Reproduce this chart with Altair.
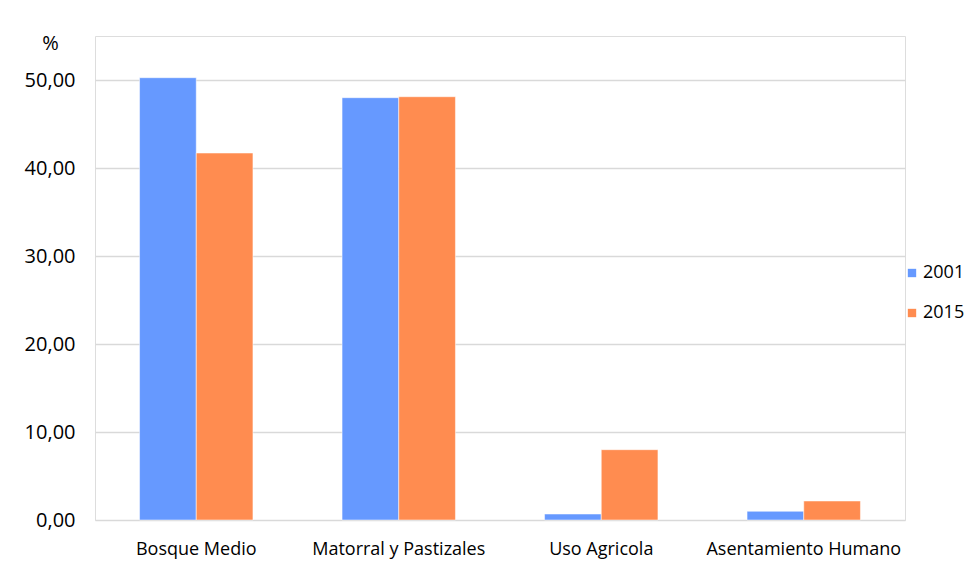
import altair as alt
import pandas as pd

categories = ["Bosque Medio", "Matorral y Pastizales", "Uso Agricola", "Asentamiento Humano"]
years = ["2001", "2015"]
values_2001 = [50.26, 47.99, 0.68, 0.99]
values_2015 = [41.70, 48.10, 7.99, 2.16]

rows = []
for c, a, b in zip(categories, values_2001, values_2015):
    rows.append({"cat": c, "year": "2001", "value": a})
    rows.append({"cat": c, "year": "2015", "value": b})
df = pd.DataFrame(rows)

FONT = "Open Sans"

bars = alt.Chart(df).mark_bar(stroke="white", strokeOpacity=0.5, strokeWidth=1).encode(
    x=alt.X("cat:N", sort=categories, title=None,
            scale=alt.Scale(paddingInner=0.44, paddingOuter=0.22),
            axis=alt.Axis(labelAngle=0, labelFontSize=18, labelColor="#000000",
                          labelFont=FONT, ticks=False, domain=False, labelPadding=20,
                          labelLimit=400)),
    xOffset=alt.XOffset("year:N", sort=years),
    y=alt.Y("value:Q", title="%", scale=alt.Scale(domain=[0, 55], nice=False),
            axis=alt.Axis(values=[0, 10, 20, 30, 40, 50],
                          labelExpr="replace(format(datum.value, '.2f'), '.', ',')",
                          labelFontSize=20, labelColor="#000000", labelFont=FONT,
                          ticks=False, domain=False, labelPadding=20,
                          gridColor="#D9D9D9", gridWidth=1.5,
                          titleAngle=0, titleX=-45, titleY=7, titleAlign="center",
                          titleBaseline="middle",
                          titleFontSize=20, titleFontWeight="normal", titleFont=FONT,
                          titleColor="#000000")),
    color=alt.Color("year:N", sort=years,
                    scale=alt.Scale(domain=years, range=["#6699FF", "#FF8C50"]),
                    legend=alt.Legend(title=None, orient="none", legendX=808, legendY=228,
                                      symbolType="square", symbolSize=70,
                                      symbolStrokeWidth=0,
                                      labelFontSize=18, labelFont=FONT, labelColor="#000000",
                                      rowPadding=22, labelOffset=2, labelLimit=200)),
)

chart = bars.properties(
    width=810, height=484,
    autosize=alt.AutoSizeParams(type="none"),
    padding={"left": 95, "top": 36, "right": 64, "bottom": 47},
).configure_view(stroke="#BFBFBF", strokeWidth=1.5).configure(background="white")

chart.save("out.html", embed_options={"renderer": "svg", "actions": False})
